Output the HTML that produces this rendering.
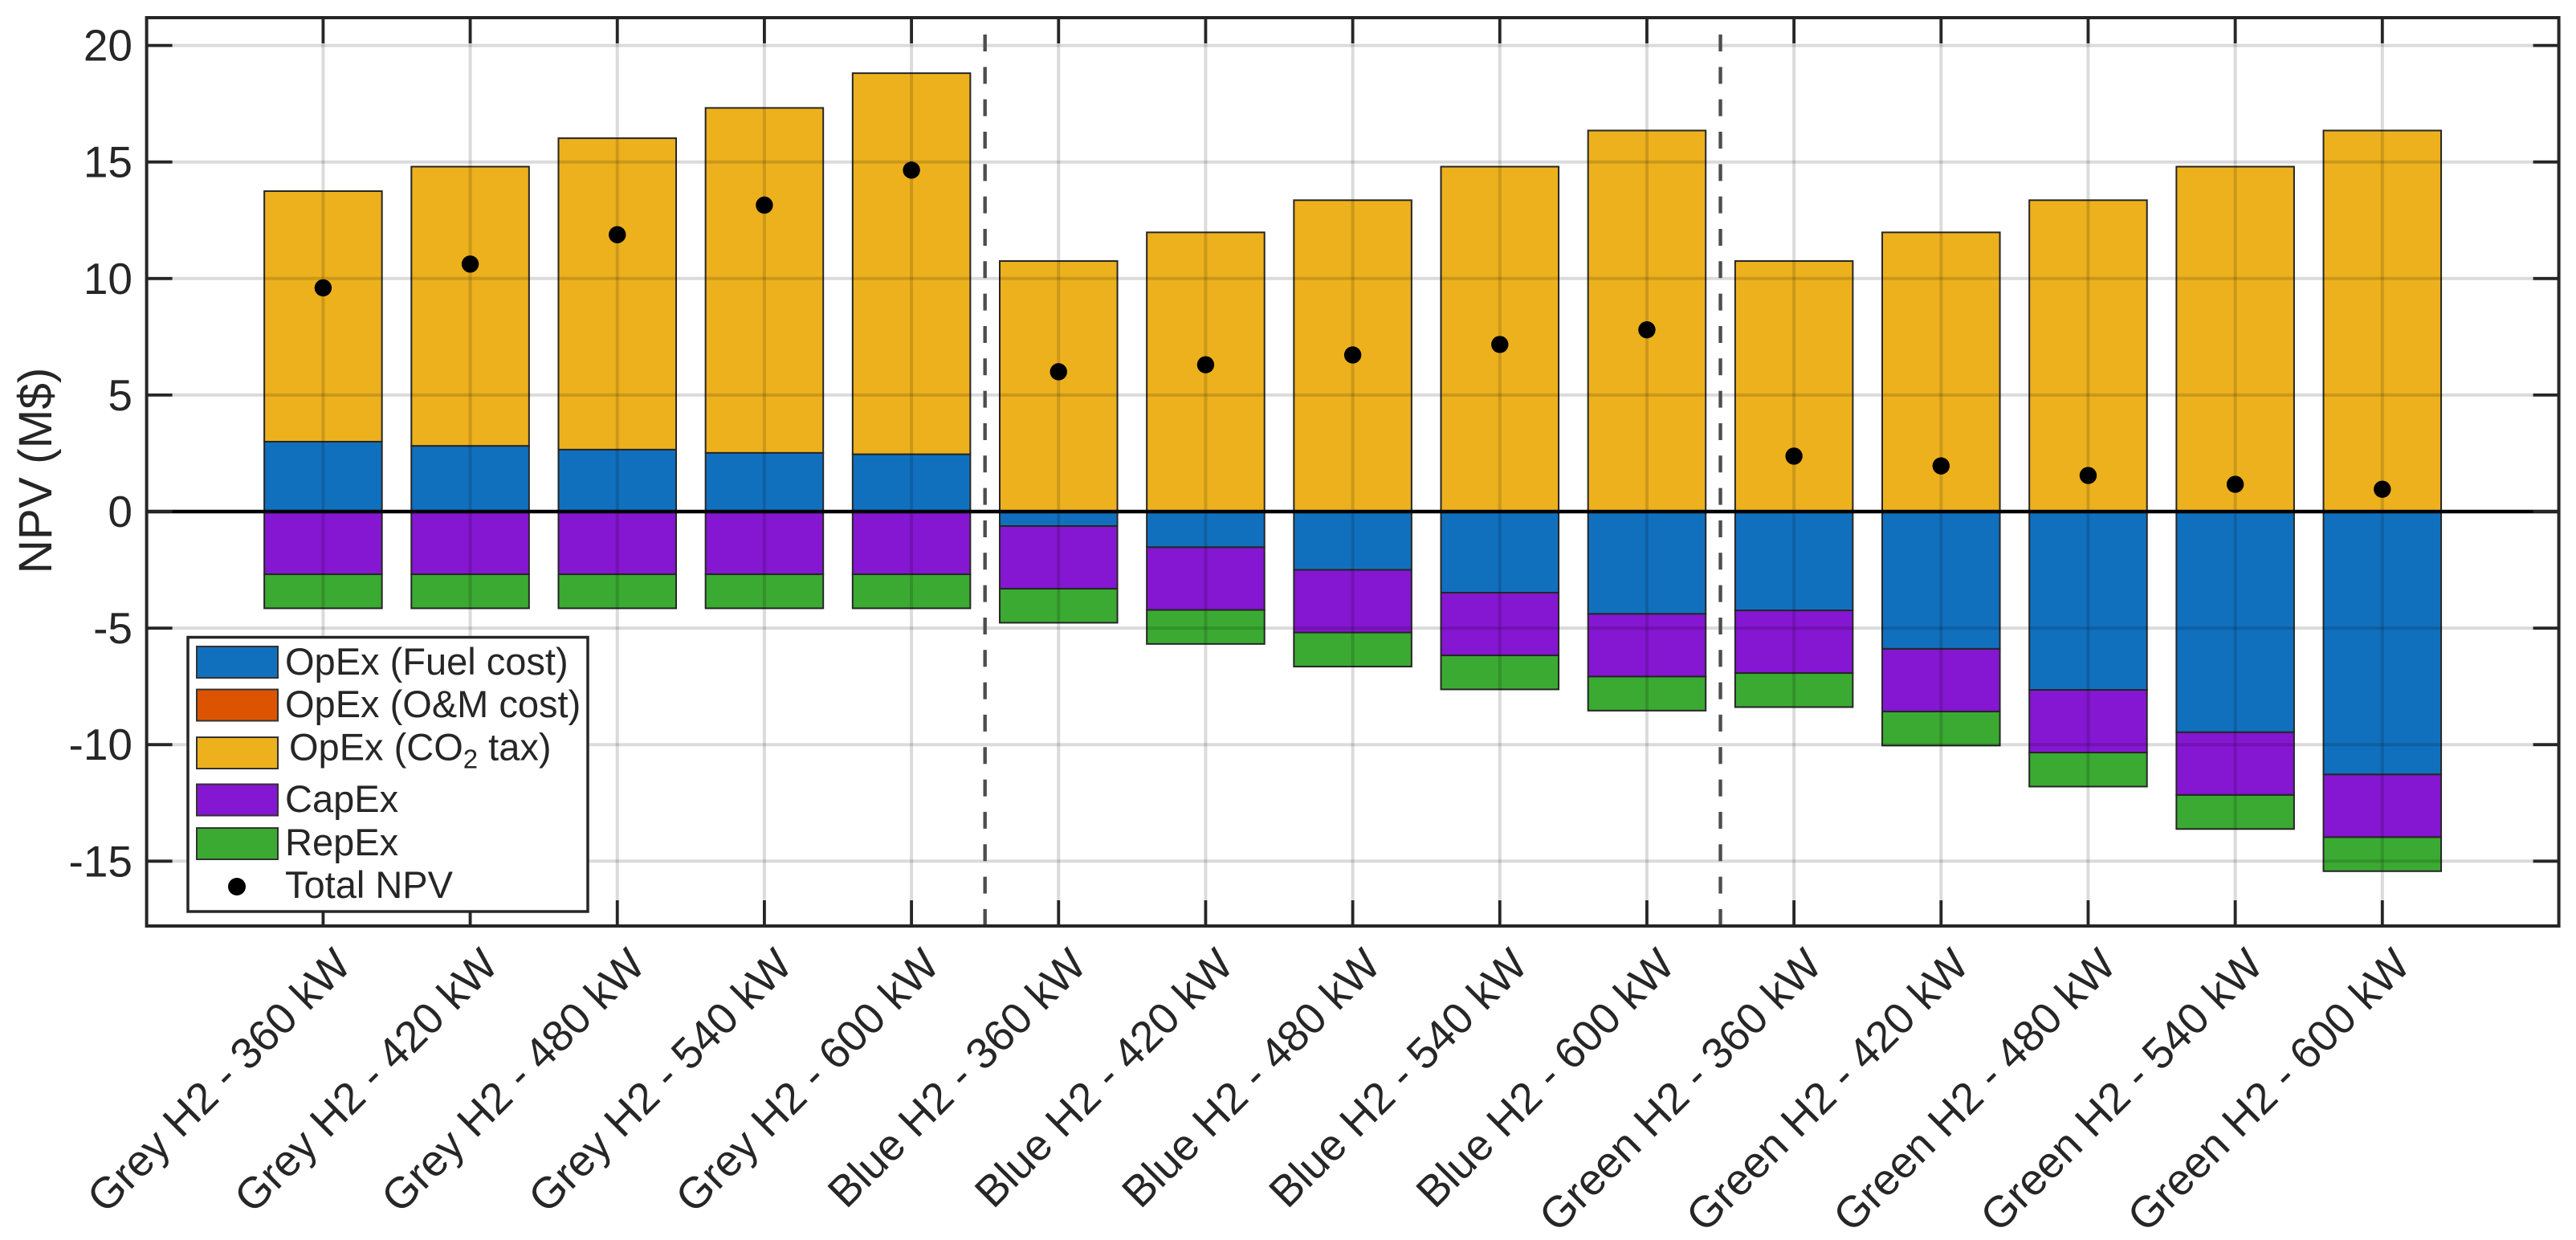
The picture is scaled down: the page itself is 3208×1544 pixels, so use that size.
<!DOCTYPE html>
<html lang="en">
<head>
<meta charset="utf-8">
<title>NPV by hydrogen type and power</title>
<style>
html,body{margin:0;padding:0;background:#fff;}
svg{display:block;font-family:"Liberation Sans",Arial,sans-serif;}
text{fill:#262626;}
</style>
</head>
<body>
<svg id="chart" xmlns="http://www.w3.org/2000/svg" width="3208" height="1544" viewBox="0 0 3208 1544">
<rect x="0" y="0" width="3208" height="1544" fill="#fff"/>
<g id="bars"></g>
<g id="grid"></g>
<g id="overlay"></g>
<g id="points"></g>
<g id="axes"></g>
<text transform="translate(64,586) rotate(-90)" text-anchor="middle" font-size="58.5">NPV (M$)</text>
<g>
<rect x="234" y="793.5" width="498" height="341.5" fill="#fff" stroke="#262626" stroke-width="3.5"/>
<g>
<rect x="245" y="805" width="101" height="39" fill="#1170BE" stroke="#333" stroke-width="2"/>
<text x="355" y="840" font-size="47">OpEx (Fuel cost)</text>
</g>
<g>
<rect x="245" y="858.5" width="101" height="39" fill="#DC5400" stroke="#333" stroke-width="2"/>
<text x="355" y="893" font-size="47">OpEx (O&amp;M cost)</text>
</g>
<g>
<rect x="245" y="918" width="101" height="39" fill="#EDB11E" stroke="#333" stroke-width="2"/>
<text x="360" y="946.5" font-size="47">OpEx (CO<tspan font-size="33" dy="10">2</tspan><tspan dy="-10"> tax)</tspan></text>
</g>
<g>
<rect x="245" y="976.5" width="101" height="39" fill="#8516D1" stroke="#333" stroke-width="2"/>
<text x="355" y="1011" font-size="47">CapEx</text>
</g>
<g>
<rect x="245" y="1031" width="101" height="39" fill="#3BAA32" stroke="#333" stroke-width="2"/>
<text x="355" y="1065" font-size="47">RepEx</text>
</g>
<g>
<circle cx="295" cy="1104" r="11" fill="#000"/>
<text x="355" y="1118" font-size="47">Total NPV</text>
</g>
</g>
</svg>
<script>
const categories = ["Grey H2 - 360 kW","Grey H2 - 420 kW","Grey H2 - 480 kW","Grey H2 - 540 kW","Grey H2 - 600 kW","Blue H2 - 360 kW","Blue H2 - 420 kW","Blue H2 - 480 kW","Blue H2 - 540 kW","Blue H2 - 600 kW","Green H2 - 360 kW","Green H2 - 420 kW","Green H2 - 480 kW","Green H2 - 540 kW","Green H2 - 600 kW"];
const fuelCost = [3.0,2.82,2.66,2.52,2.46,-0.62,-1.53,-2.5,-3.48,-4.39,-4.24,-5.89,-7.65,-9.47,-11.28];
const omCost = [0,0,0,0,0,0,0,0,0,0,0,0,0,0,0];
const co2Tax = [10.75,11.98,13.36,14.8,16.35,10.75,11.98,13.36,14.8,16.35,10.75,11.98,13.36,14.8,16.35];
const capEx = [-2.69,-2.69,-2.69,-2.69,-2.69,-2.69,-2.69,-2.69,-2.69,-2.69,-2.69,-2.69,-2.69,-2.69,-2.69];
const repEx = [-1.46,-1.46,-1.46,-1.46,-1.46,-1.46,-1.46,-1.46,-1.46,-1.46,-1.46,-1.46,-1.46,-1.46,-1.46];
const totalNpv = [9.6,10.62,11.88,13.15,14.65,6.0,6.3,6.72,7.17,7.8,2.38,1.96,1.55,1.17,0.96];
const yTickValues = [20,15,10,5,0,-5,-10,-15];
const yTickLabels = ["20","15","10","5","0","-5","-10","-15"];
const separatorPositions = [5.5,10.5];

const SVGNS = "http://www.w3.org/2000/svg";
const plotLeft = 182.6, plotRight = 3186.6, plotTop = 22, plotBottom = 1153;
const xMin = -0.2, xMax = 16.2;
const yAtZero = 637, pxPerUnit = 29.02;
const barWidthUnits = 0.8;
const tickLen = 32;

function xScale(v){ return plotLeft + (v - xMin) * (plotRight - plotLeft) / (xMax - xMin); }
function yScale(v){ return yAtZero - v * pxPerUnit; }
function mk(parent, tag, attrs){
  const el = document.createElementNS(SVGNS, tag);
  for (const k in attrs) el.setAttribute(k, attrs[k]);
  parent.appendChild(el);
  return el;
}
const barsG = document.getElementById("bars");
const gridG = document.getElementById("grid");
const overlayG = document.getElementById("overlay");
const pointsG = document.getElementById("points");
const axesG = document.getElementById("axes");

const seriesList = [
  {key:"fuel", values:fuelCost, color:"#1170BE"},
  {key:"om", values:omCost, color:"#DC5400"},
  {key:"co2", values:co2Tax, color:"#EDB11E"},
  {key:"capex", values:capEx, color:"#8516D1"},
  {key:"repex", values:repEx, color:"#3BAA32"}
];

categories.forEach(function(cat, i){
  const xVal = i + 1;
  let up = 0, down = 0;
  seriesList.forEach(function(s){
    const v = s.values[i];
    let from, to;
    if (v >= 0) { from = up; to = up + v; up = to; }
    else { from = down; to = down + v; down = to; }
    const x0 = xScale(xVal - barWidthUnits / 2);
    const x1 = xScale(xVal + barWidthUnits / 2);
    const r = mk(barsG, "rect", {
      x: x0, y: Math.min(yScale(from), yScale(to)),
      width: x1 - x0, height: Math.abs(yScale(to) - yScale(from)),
      fill: s.color, stroke: "#262626", "stroke-width": 2
    });
    
    
  });
});

yTickValues.forEach(function(v){
  const g = mk(gridG, "line", {x1: plotLeft, x2: plotRight, y1: yScale(v), y2: yScale(v), stroke: "#000", "stroke-opacity": 0.14, "stroke-width": 4});
  
  
});
categories.forEach(function(cat, i){
  const g = mk(gridG, "line", {x1: xScale(i + 1), x2: xScale(i + 1), y1: plotTop, y2: plotBottom, stroke: "#000", "stroke-opacity": 0.14, "stroke-width": 4});
  
  
});

separatorPositions.forEach(function(p){
  const d = mk(overlayG, "line", {x1: xScale(p), x2: xScale(p), y1: 43, y2: plotBottom, stroke: "#4d4d4d", "stroke-width": 4.4, "stroke-dasharray": "21 19.33"});
  
  
});
const zero = mk(overlayG, "line", {x1: plotLeft, x2: plotRight, y1: yScale(0), y2: yScale(0), stroke: "#000", "stroke-width": 4.5});



totalNpv.forEach(function(v, i){
  const c = mk(pointsG, "circle", {cx: xScale(i + 1), cy: yScale(v), r: 10.7, fill: "#000"});
  
  
});

const frame = mk(axesG, "rect", {x: plotLeft, y: plotTop, width: plotRight - plotLeft, height: plotBottom - plotTop, fill: "none", stroke: "#262626", "stroke-width": 4});



yTickValues.forEach(function(v, i){
  const y = yScale(v);
  const tl = mk(axesG, "line", {x1: plotLeft, x2: plotLeft + tickLen, y1: y, y2: y, stroke: "#262626", "stroke-width": 3.8});
  
  
  const tr = mk(axesG, "line", {x1: plotRight - tickLen, x2: plotRight, y1: y, y2: y, stroke: "#262626", "stroke-width": 3.8});
  
  
  const t = mk(axesG, "text", {x: 165, y: y + 19, "text-anchor": "end", "font-size": 55});
  t.textContent = yTickLabels[i];
  
  
});

categories.forEach(function(cat, i){
  const x = xScale(i + 1);
  const tb = mk(axesG, "line", {x1: x, x2: x, y1: plotBottom, y2: plotBottom - tickLen, stroke: "#262626", "stroke-width": 3.8});
  
  
  const tt = mk(axesG, "line", {x1: x, x2: x, y1: plotTop, y2: plotTop + tickLen, stroke: "#262626", "stroke-width": 3.8});
  
  
  const px = x + 37.5, py = 1204.5;
  const t = mk(axesG, "text", {transform: "translate(" + px + "," + py + ") rotate(-45)", "text-anchor": "end", "font-size": 54.5});
  t.textContent = cat;
  
  
});
</script>
</body>
</html>
